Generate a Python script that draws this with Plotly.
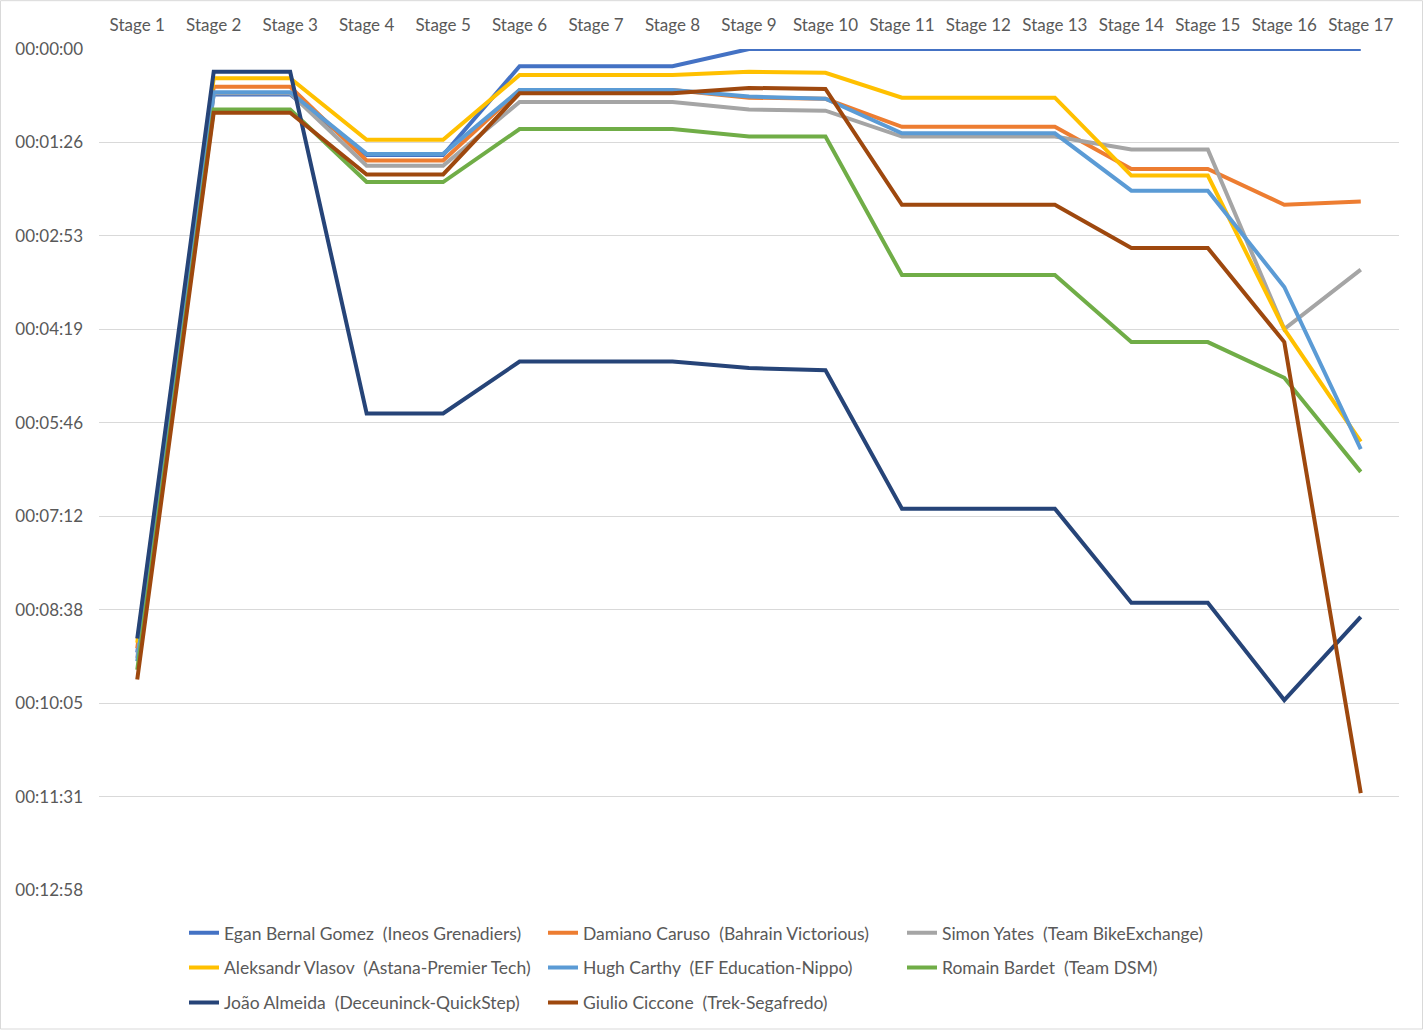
import plotly.graph_objects as go

STAGES = [f"Stage {i}" for i in range(1, 18)]

# gaps in seconds
RIDERS = [
    "Egan Bernal Gomez \u00a0(Ineos Grenadiers)",
    "Damiano Caruso \u00a0(Bahrain Victorious)",
    "Simon Yates \u00a0(Team BikeExchange)",
    "Aleksandr Vlasov \u00a0(Astana-Premier Tech)",
    "Hugh Carthy \u00a0(EF Education-Nippo)",
    "Romain Bardet \u00a0(Team DSM)",
    "João Almeida \u00a0(Deceuninck-QuickStep)",
    "Giulio Ciccone \u00a0(Trek-Segafredo)",
]
BERNAL = [558, 42, 42, 98, 98, 16, 16, 16, 0, 0, 0, 0, 0, 0, 0, 0, 0]
CARUSO = [554, 35, 35, 103, 103, 38, 38, 38, 45, 46, 72, 72, 72, 111, 111, 144, 141]
YATES = [563, 41, 41, 108, 108, 49, 49, 49, 56, 57, 81, 81, 81, 93, 93, 259, 204]
VLASOV = [549, 27, 27, 84, 84, 24, 24, 24, 21, 22, 45, 45, 45, 117, 117, 259, 363]
CARTHY = [566, 40, 40, 97, 97, 38, 38, 38, 44, 46, 78, 78, 78, 131, 131, 220, 370]
BARDET = [574, 56, 56, 123, 123, 74, 74, 74, 81, 81, 209, 209, 209, 271, 271, 304, 391]
ALMEIDA = [545, 21, 21, 337, 337, 289, 289, 289, 295, 297, 425, 425, 425, 512, 512, 602, 525]
CICCONE = [583, 59, 59, 116, 116, 41, 41, 41, 36, 37, 144, 144, 144, 184, 184, 271, 688]
SERIES = [BERNAL, CARUSO, YATES, VLASOV, CARTHY, BARDET, ALMEIDA, CICCONE]

COLORS = ["#4472C4", "#ED7D31", "#A5A5A5", "#FFC000", "#5B9BD5", "#70AD47", "#264478", "#9E480E"]
LEGEND_ROW = ["legend", "legend", "legend", "legend2", "legend2", "legend2", "legend3", "legend3"]

TICK_LABELS = ["00:00:00", "00:01:26", "00:02:53", "00:04:19", "00:05:46",
               "00:07:12", "00:08:38", "00:10:05", "00:11:31", "00:12:58"]
TICK_VALS = [i * 86.4 for i in range(len(TICK_LABELS))]

W, H = 1423, 1033
ML, MR, MT, MB = 99, 24, 49, 140
FONT = "Lato"
GREY_TEXT = "#595959"

fig = go.Figure()
for name, vals, color, leg in zip(RIDERS, SERIES, COLORS, LEGEND_ROW):
    fig.add_trace(go.Scatter(
        x=STAGES, y=vals, name=name, mode="lines",
        line=dict(color=color, width=4),
        legend=leg,
    ))

pw, ph = W - ML - MR, H - MT - MB


def px_x(px):
    return (px - ML) / pw


def px_y(py):
    return (H - MB - py) / ph


legend_style = dict(
    orientation="h", xanchor="left", yanchor="middle",
    x=px_x(184), entrywidth=314, entrywidthmode="pixels",
    font=dict(family=FONT, size=17.5, color=GREY_TEXT),
    bgcolor="rgba(0,0,0,0)",
)

fig.update_layout(
    width=W, height=H,
    margin=dict(l=ML, r=MR, t=MT, b=MB),
    paper_bgcolor="white", plot_bgcolor="white",
    font=dict(family=FONT, size=17, color=GREY_TEXT),
    legend=dict(legend_style, y=px_y(936)),
    legend2=dict(legend_style, y=px_y(971)),
    legend3=dict(legend_style, y=px_y(1006)),
    xaxis=dict(
        side="top", range=[-0.5, 16.5], showgrid=False, zeroline=False,
        showline=False, ticks="", ticklabelstandoff=14, automargin=False,
        tickfont=dict(family=FONT, size=17, color=GREY_TEXT),
    ),
    yaxis=dict(
        range=[777.6, 0], tickvals=TICK_VALS, ticktext=TICK_LABELS,
        showgrid=True, gridcolor="#D9D9D9", gridwidth=1.3, zeroline=False,
        showline=False, ticks="", ticklabelstandoff=15, automargin=False,
        tickfont=dict(family=FONT, size=17, color=GREY_TEXT),
    ),
    shapes=[dict(
        type="rect", xref="paper", yref="paper",
        x0=px_x(0.5), x1=px_x(W - 0.5), y0=px_y(H - 0.5), y1=px_y(0.5),
        line=dict(color="#D9D9D9", width=1), layer="below",
    )],
)

# keep the page exactly the size of the figure (no body margin, no extra height)
PAGE_FIT = (
    "for (const el of [document.documentElement, document.body]) {"
    " el.style.margin = '0'; el.style.padding = '0';"
    " el.style.overflow = 'hidden'; el.style.height = '1033px'; }"
)
fig.write_html(
    "out.html",
    config={"displayModeBar": False},
    post_script=PAGE_FIT,
)
